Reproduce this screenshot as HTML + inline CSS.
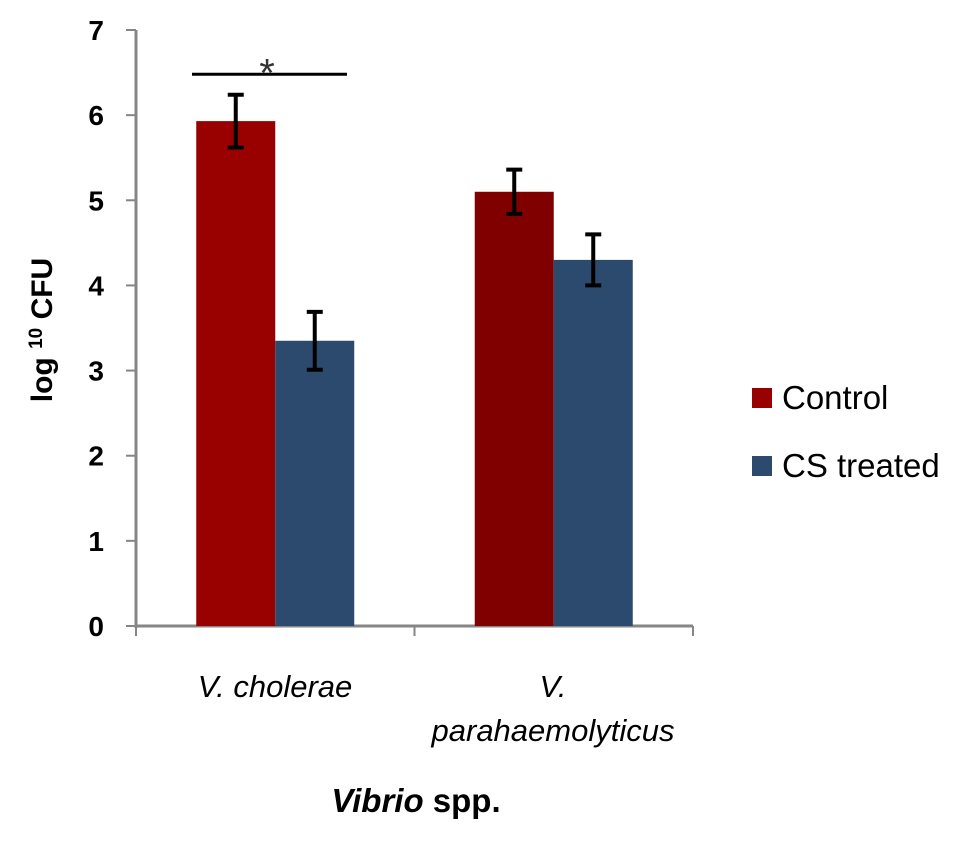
<!DOCTYPE html>
<html><head><meta charset="utf-8"><style>
body{margin:0;background:#fff}
svg text{font-family:"Liberation Sans",Arial,sans-serif}
</style></head><body>
<svg id="chart" width="957" height="842" viewBox="0 0 957 842">
<g id="axes"></g><g id="bars"></g><g id="errs"></g>
<g>
<line id="sigline" x1="192" x2="347" stroke="#000" stroke-width="3"/>
<text id="sigstar" x="267" text-anchor="middle" font-size="40" fill="#333">*</text>
</g>
<text transform="translate(52,330) rotate(-90)" text-anchor="middle" font-size="30" font-weight="bold">log <tspan font-size="19" dy="-10">10</tspan><tspan dy="10"> CFU</tspan></text>
<text x="275" y="697" text-anchor="middle" font-size="31" font-style="italic">V. cholerae</text>
<text x="553" y="697" text-anchor="middle" font-size="31" font-style="italic">V.</text>
<text x="553" y="741" text-anchor="middle" font-size="31" font-style="italic">parahaemolyticus</text>
<text x="416" y="812" text-anchor="middle" font-size="33" font-weight="bold"><tspan font-style="italic">Vibrio</tspan> spp.</text>
<g>
<rect x="752" y="388" width="20" height="20" fill="#990000"/>
<text x="782" y="409" font-size="33">Control</text>
<rect x="752" y="456" width="20" height="20" fill="#2c4a6e"/>
<text x="782" y="477" font-size="33">CS treated</text>
</g>
</svg>
<script>
const categories=["V. cholerae","V. parahaemolyticus"];
const controlVals=[5.93,5.10];
const controlErr=[0.31,0.26];
const csVals=[3.35,4.30];
const csErr=[0.34,0.30];
const yTicks=[0,1,2,3,4,5,6,7];
const sigValue=6.48;
const NS="http://www.w3.org/2000/svg";
const X0=136,X1=693,Y0=626,Y7=30;
const y=v=>Y0-(v/7)*(Y0-Y7);
const catW=(X1-X0)/categories.length;
const barW=79;
function mk(tag,attrs,parent){const e=document.createElementNS(NS,tag);for(const k in attrs)e.setAttribute(k,attrs[k]);document.getElementById(parent).appendChild(e);return e;}
const ax=mk("line",{x1:X0,x2:X0,y1:Y7,y2:Y0+2,stroke:"#868686","stroke-width":3},"axes");


const xa=mk("line",{x1:X0,x2:X1,y1:Y0,y2:Y0,stroke:"#868686","stroke-width":3},"axes");


yTicks.forEach(t=>{
 const l=mk("line",{x1:X0-10,x2:X0,y1:y(t),y2:y(t),stroke:"#868686","stroke-width":2},"axes");
 
 
 const tx=mk("text",{x:104,y:y(t)+10,"text-anchor":"end","font-size":28,"font-weight":"bold"},"axes");
 tx.textContent=t;
 
 
});
for(let i=0;i<=categories.length;i++){
 const l=mk("line",{x1:X0+i*catW,x2:X0+i*catW,y1:Y0,y2:Y0+10,stroke:"#868686","stroke-width":2},"axes");
 
 
}
const ctrlCols=["#990000","#800000"];
categories.forEach((c,i)=>{
 const cx=X0+catW*(i+0.5);
 [[controlVals,controlErr,ctrlCols[i],cx-barW,'bar-control'],[csVals,csErr,"#2c4a6e",cx,'bar-cs-treated']].forEach(([v,e,col,x,nm])=>{
  const r=mk("rect",{x:x,y:y(v[i]),width:barW,height:Y0-y(v[i]),fill:col},"bars");
  
  
  const ex=x+barW/2;
  const g=mk("g",{stroke:"#000","stroke-width":4},"errs");
  
  
  const a=document.createElementNS(NS,"line");a.setAttribute("x1",ex);a.setAttribute("x2",ex);a.setAttribute("y1",y(v[i]+e[i]));a.setAttribute("y2",y(v[i]-e[i]));g.appendChild(a);
  [v[i]+e[i],v[i]-e[i]].forEach(val=>{const b=document.createElementNS(NS,"line");b.setAttribute("x1",ex-8);b.setAttribute("x2",ex+8);b.setAttribute("y1",y(val));b.setAttribute("y2",y(val));g.appendChild(b);});
 });
});
document.getElementById("sigline").setAttribute("y1",y(sigValue));
document.getElementById("sigline").setAttribute("y2",y(sigValue));
document.getElementById("sigstar").setAttribute("y",y(sigValue)+12);
</script>
</body></html>
